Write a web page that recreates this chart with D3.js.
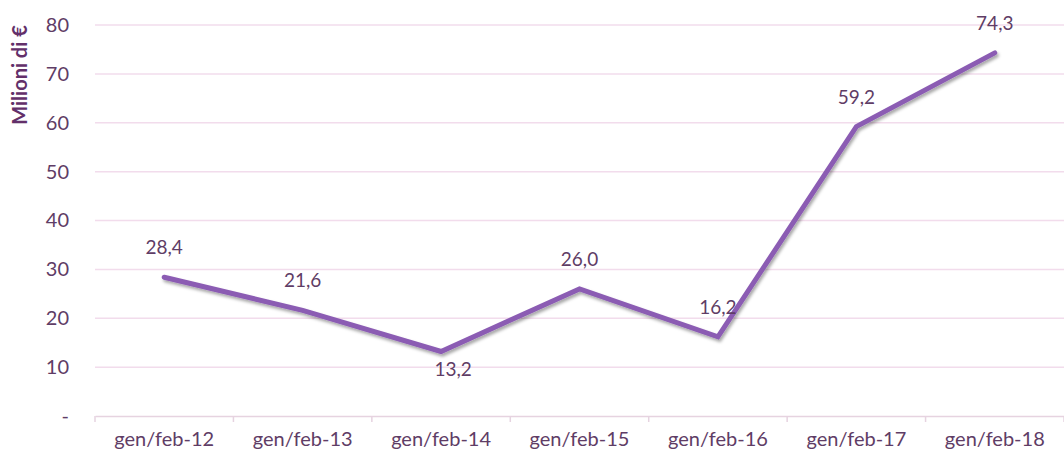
<!DOCTYPE html>
<html>
<head>
<meta charset="utf-8">
<script src="https://cdn.jsdelivr.net/npm/d3@7"></script>
<style>
  body { margin: 0; background: #fff; }
  text { font-family: Lato, "Open Sans", sans-serif; }
</style>
</head>
<body>
<div id="chart"></div>
<script>
// data
var periods = ["gen/feb-12", "gen/feb-13", "gen/feb-14", "gen/feb-15", "gen/feb-16", "gen/feb-17", "gen/feb-18"];
var values = [28.4, 21.6, 13.2, 26.0, 16.2, 59.2, 74.3];
var yTicks = [0, 10, 20, 30, 40, 50, 60, 70, 80];
var labelsBelow = ["gen/feb-14"];

var W = 1064, H = 455;
var margin = {top: 25, right: 0, bottom: 39, left: 95};
var width = W - margin.left - margin.right,
    height = H - margin.top - margin.bottom;

var textColor = "#5f3d66";
var lineColor = "#8b5cb3";

var svg = d3.select("#chart")
  .append("svg")
    .attr("width", W)
    .attr("height", H);

// shadow under the line
var defs = svg.append("defs");
var f = defs.append("filter").attr("id", "shadow")
  .attr("x", "-5%").attr("y", "-5%").attr("width", "110%").attr("height", "120%");
f.append("feDropShadow")
  .attr("dx", 1.5).attr("dy", 2.5).attr("stdDeviation", 1.5)
  .attr("flood-color", "#000").attr("flood-opacity", 0.35);

var g = svg.append("g")
  .attr("transform", "translate(" + margin.left + "," + margin.top + ")");

var x = d3.scaleBand()
  .domain(periods)
  .range([0, width])
  .padding(0);

var y = d3.scaleLinear()
  .domain([0, 80])
  .range([height, 0]);

// gridlines
g.append("g").selectAll("line")
  .data(yTicks.filter(function(d) { return d > 0; }))
  .enter().append("line")
    .attr("x1", 0)
    .attr("x2", width)
    .attr("y1", function(d) { return y(d); })
    .attr("y2", function(d) { return y(d); })
    .attr("stroke", "#f2dcec")
    .attr("stroke-width", 1.5);

// y axis labels
var yAxis = g.append("g")
  .call(d3.axisLeft(y).tickValues(yTicks).tickSize(0).tickPadding(26)
    .tickFormat(function(d) { return d === 0 ? "-" : d; }));
yAxis.select(".domain").remove();
yAxis.selectAll("text")
  .attr("fill", textColor)
  .style("font-size", "20px");

// x axis
var xAxis = g.append("g")
  .attr("transform", "translate(0," + height + ")")
  .call(d3.axisBottom(x).tickSize(0).tickPadding(16));
xAxis.select(".domain")
  .attr("stroke", "#e6d3e0")
  .attr("stroke-width", 1.5);
xAxis.selectAll("text")
  .attr("fill", textColor)
  .style("font-size", "20px");

// tick marks between categories
g.append("g").selectAll("line")
  .data(periods.concat(["end"]))
  .enter().append("line")
    .attr("x1", function(d, i) { return i * x.step(); })
    .attr("x2", function(d, i) { return i * x.step(); })
    .attr("y1", height)
    .attr("y2", height + 6)
    .attr("stroke", "#e6d3e0")
    .attr("stroke-width", 1.5);

// y axis title
svg.append("text")
  .attr("transform", "rotate(-90)")
  .attr("x", -75)
  .attr("y", 27)
  .attr("text-anchor", "middle")
  .attr("fill", "#63306a")
  .style("font-size", "20px")
  .style("font-weight", "bold")
  .text("Milioni di €");

// line
var line = d3.line()
  .x(function(d, i) { return x(periods[i]) + x.bandwidth() / 2; })
  .y(function(d) { return y(d); });

g.append("path")
  .datum(values)
  .attr("d", line)
  .attr("fill", "none")
  .attr("stroke", lineColor)
  .attr("stroke-width", 5)
  .attr("stroke-linejoin", "miter")
  .attr("stroke-linecap", "round")
  .attr("filter", "url(#shadow)");

// data labels
g.append("g").selectAll("text")
  .data(values)
  .enter().append("text")
    .attr("x", function(d, i) {
      var cx = x(periods[i]) + x.bandwidth() / 2;
      return labelsBelow.indexOf(periods[i]) >= 0 ? cx + 12 : cx;
    })
    .attr("y", function(d, i) {
      return labelsBelow.indexOf(periods[i]) >= 0 ? y(d) + 25 : y(d) - 23;
    })
    .attr("text-anchor", "middle")
    .attr("fill", textColor)
    .style("font-size", "19px")
    .text(function(d) { return d.toFixed(1).replace(".", ","); });
</script>
</body>
</html>
